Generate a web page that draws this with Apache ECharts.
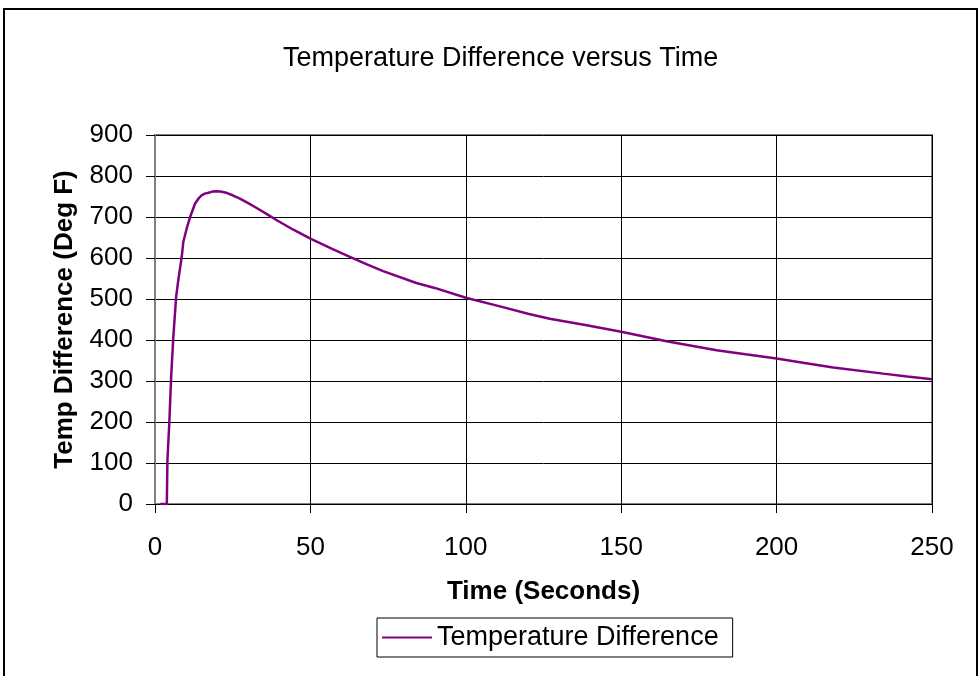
<!DOCTYPE html>
<html>
<head>
<meta charset="utf-8">
<script src="https://cdn.jsdelivr.net/npm/echarts@6/dist/echarts.min.js"></script>
<style>
html,body{margin:0;padding:0;background:#fff;}
#chart{width:980px;height:676px;}
</style>
</head>
<body>
<div id="chart"></div>
<script>
var timeSec = [1.7, 3.0, 3.8, 4.0, 4.6, 5.2, 5.9, 6.8, 7.5, 8.6, 9.1, 10.2, 11.3, 12.9, 13.9, 15.0, 16.0, 17.2, 18.5, 19.8, 21.0, 23.0, 25.0, 27.3, 30.0, 32.7, 36.0, 39.2, 44.5, 50.0, 57.0, 62.7, 68.0, 73.4, 84.1, 90.0, 100.0, 111.0, 120.0, 127.0, 138.0, 150.0, 164.6, 180.7, 190.0, 200.0, 209.0, 218.2, 234.3, 242.0, 250.0];
var tempDiff = [0, 0, 0, 107, 197, 310, 408, 505, 546, 603, 639, 672, 700, 733, 744, 753, 757, 759, 762, 763, 762, 759, 753, 745, 734, 722, 707, 692, 669, 647, 622, 603, 585, 568, 539, 527, 503, 482, 464, 452, 437, 420, 397, 375, 365, 355, 344, 333, 318, 311, 304];
var xTicks = [0, 50, 100, 150, 200, 250];
var yTicks = [0, 100, 200, 300, 400, 500, 600, 700, 800, 900];
var seriesName = 'Temperature Difference';

var pairs = timeSec.map(function (t, i) { return [t, tempDiff[i]]; });
var FONT = 'Liberation Sans, Arial, sans-serif';

var chart = echarts.init(document.getElementById('chart'), null, {renderer: 'canvas'});
chart.setOption({
  backgroundColor: '#ffffff',
  animation: false,
  title: {
    text: 'Temperature Difference versus Time',
    left: 278,
    top: 40,
    textStyle: {fontFamily: FONT, fontSize: 27, fontWeight: 'normal', color: '#000'}
  },
  graphic: [{
    type: 'rect',
    shape: {x: 4, y: 9, width: 973, height: 720},
    style: {fill: 'none', stroke: '#000', lineWidth: 2},
    silent: true
  }],
  legend: {
    data: [{name: seriesName, icon: 'rect'}],
    left: 377,
    top: 618,
    itemWidth: 50,
    itemHeight: 2,
    padding: [6, 14, 6, 5],
    borderColor: '#000',
    borderWidth: 1,
    textStyle: {fontFamily: FONT, fontSize: 27, color: '#000'}
  },
  grid: {
    left: 155, right: 48, top: 135, bottom: 172,
    show: true, borderColor: '#808080', borderWidth: 2, backgroundColor: '#fff'
  },
  xAxis: {
    type: 'value',
    min: xTicks[0], max: xTicks[xTicks.length - 1], interval: 50,
    name: 'Time (Seconds)',
    nameLocation: 'middle',
    nameGap: 75,
    nameTextStyle: {fontFamily: FONT, fontSize: 26, fontWeight: 'bold', color: '#000'},
    axisLine: {lineStyle: {color: '#000', width: 1}},
    axisTick: {show: true, length: 9, lineStyle: {color: '#000'}},
    axisLabel: {fontFamily: FONT, fontSize: 26, color: '#000', margin: 31},
    splitLine: {show: true, lineStyle: {color: '#000', width: 1}}
  },
  yAxis: {
    type: 'value',
    min: yTicks[0], max: yTicks[yTicks.length - 1], interval: 100,
    name: 'Temp Difference (Deg F)',
    nameLocation: 'middle',
    nameGap: 77,
    nameTextStyle: {fontFamily: FONT, fontSize: 26, fontWeight: 'bold', color: '#000'},
    axisLine: {show: true, lineStyle: {color: '#808080', width: 2}},
    axisTick: {show: true, length: 9, lineStyle: {color: '#000'}},
    axisLabel: {fontFamily: FONT, fontSize: 26, color: '#000', margin: 22},
    splitLine: {show: true, lineStyle: {color: '#000', width: 1}}
  },
  series: [{
    name: seriesName,
    type: 'line',
    data: pairs,
    showSymbol: false,
    symbol: 'none',
    smooth: false,
    lineStyle: {color: '#800080', width: 2.5},
    itemStyle: {color: '#800080'}
  }]
});
</script>
</body>
</html>
